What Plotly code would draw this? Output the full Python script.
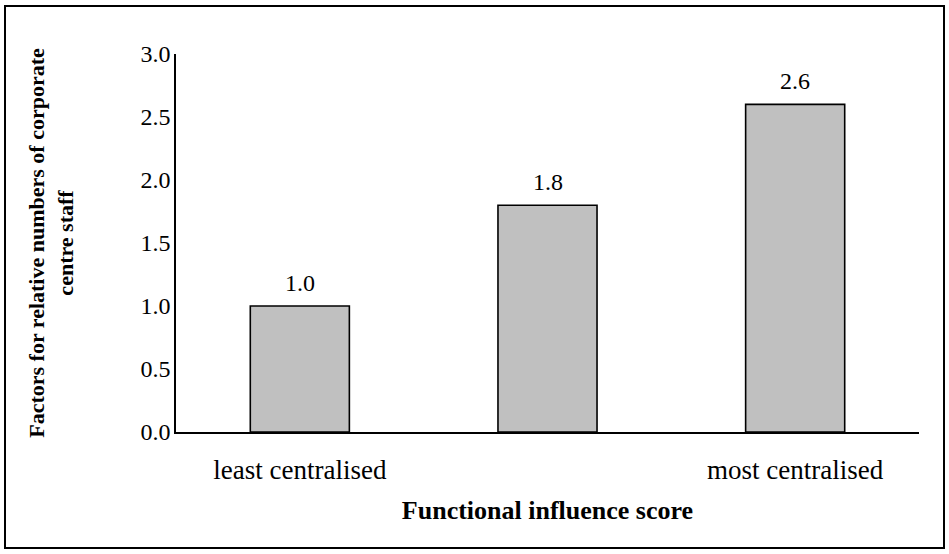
import plotly.graph_objects as go

# Functional influence categories (middle position is unlabeled)
categories = ["least centralised", " ", "most centralised"]
factors = [1.0, 1.8, 2.6]
y_ticks = [0.0, 0.5, 1.0, 1.5, 2.0, 2.5, 3.0]

FONT = "Liberation Serif, Times New Roman, serif"

W, H = 949, 554
ML, MR, MT, MB = 176, 30, 54, 122
pw = W - ML - MR
ph = H - MT - MB

fig = go.Figure()
fig.add_trace(go.Bar(
    x=categories,
    y=factors,
    marker=dict(color="#c0c0c0", line=dict(color="#000000", width=1.6)),
    showlegend=False,
    hoverinfo="skip",
))

# value labels above each bar
for cat, val in zip(categories, factors):
    fig.add_annotation(
        x=cat, y=val, xref="x", yref="y",
        text=f"{val:.1f}", showarrow=False,
        yanchor="bottom", yshift=8,
        font=dict(family=FONT, size=24, color="#000000"),
    )

# frame around the whole chart
def px_x(p):
    return (p - ML) / pw

def px_y(p):
    return (H - MB - p) / ph

fig.add_shape(
    type="rect", xref="paper", yref="paper",
    x0=px_x(5), x1=px_x(944), y0=px_y(6), y1=px_y(548),
    line=dict(color="#000000", width=2), fillcolor="rgba(0,0,0,0)",
    layer="below",
)

fig.update_layout(
    width=W, height=H,
    margin=dict(l=ML, r=MR, t=MT, b=MB, autoexpand=False),
    paper_bgcolor="#ffffff",
    plot_bgcolor="#ffffff",
    bargap=0.6,
    font=dict(family=FONT, color="#000000"),
    xaxis=dict(
        type="category",
        showline=True, linecolor="#000000", linewidth=1.6,
        ticks="", showgrid=False, zeroline=False,
        tickfont=dict(family=FONT, size=27, color="#000000"),
        ticklabelstandoff=13,
        title=dict(
            text="<b>Functional influence score</b>",
            font=dict(family=FONT, size=26, color="#000000"),
            standoff=17,
        ),
    ),
    yaxis=dict(
        range=[0, 3],
        tickvals=y_ticks,
        ticktext=[f"{v:.1f}" for v in y_ticks],
        showline=True, linecolor="#000000", linewidth=1.6,
        ticks="", showgrid=False, zeroline=False,
        tickfont=dict(family=FONT, size=24, color="#000000"),
        ticklabelstandoff=-1,
        title=dict(
            text="<b>Factors for relative numbers of corporate<br>centre staff</b>",
            font=dict(family=FONT, size=22, color="#000000"),
            standoff=61,
        ),
    ),
)

fig.write_html("out.html")
